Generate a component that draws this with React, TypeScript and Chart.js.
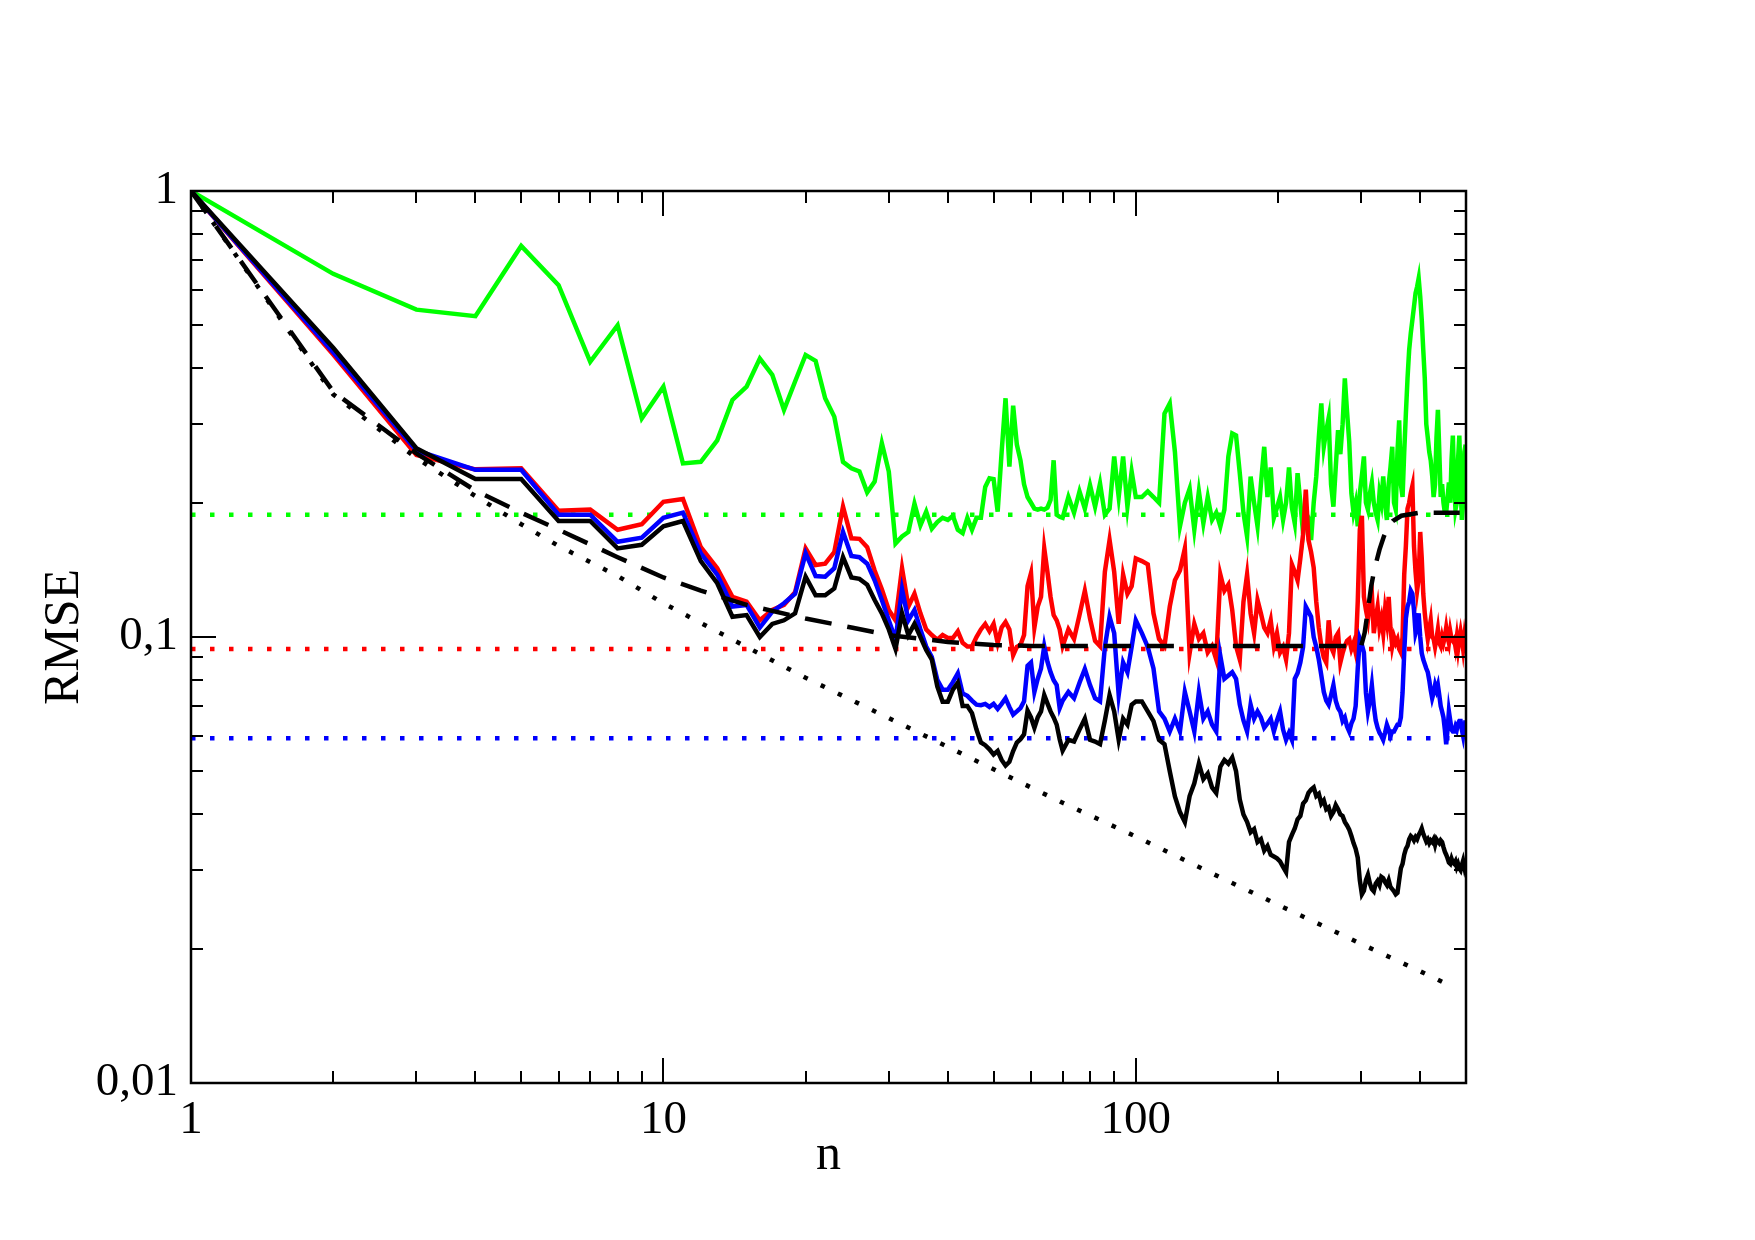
import React, { useEffect, useRef } from "react";
import { Chart, registerables } from "chart.js";

Chart.register(...registerables);

// sample positions (n)
const nValues = [
  1, 2, 3, 4, 5, 6, 7, 8, 9, 10,
  11, 12, 13, 14, 15, 16, 17, 18, 19, 20,
  21, 22, 23, 24, 25, 26, 27, 28, 29, 30,
  31, 32, 33, 34, 35, 36, 37, 38, 39, 40,
  41, 42, 43, 44, 45, 46, 47, 48, 49, 50,
  51, 52, 53, 54, 55, 56, 57, 58, 59, 60,
  61, 62, 63, 64, 65, 66, 67, 68, 69, 70,
  72, 74, 76, 78, 80, 82, 84, 86, 88, 90,
  92, 94, 96, 98, 100,
  103, 106, 109, 112, 115, 118, 121, 124, 127, 130,
  133, 136, 139, 142, 145, 148, 151, 154, 157, 160,
  163, 166, 169, 172, 175, 178, 181, 184, 187, 190,
  193, 196, 199, 202, 205, 208, 211, 214, 217, 220,
  223, 226, 229, 232, 235, 238, 241, 244, 247, 250,
  253, 256, 259, 262, 265, 268, 271, 274, 277, 280,
  283, 286, 289, 292, 295, 298, 301, 304, 307, 310,
  313, 316, 319, 322, 325, 328, 331, 334, 337, 340,
  343, 346, 349, 352, 355, 358, 361, 364, 367, 370,
  373, 376, 379, 382, 385, 388, 391, 394, 397, 400,
  403, 406, 409, 412, 415, 418, 421, 424, 427, 430,
  433, 436, 439, 442, 445, 448, 451, 454, 457, 460,
  463, 466, 469, 472, 475, 478, 481, 484, 487, 490,
  493, 496, 499,
];

const greenRmse = [
  1.0, 0.652, 0.542, 0.524, 0.753, 0.615, 0.414, 0.5, 0.309, 0.364,
  0.245, 0.247, 0.276, 0.34, 0.364, 0.421, 0.387, 0.323, 0.374, 0.429,
  0.416, 0.343, 0.312, 0.247, 0.239, 0.235, 0.211, 0.223, 0.272, 0.235,
  0.162, 0.168, 0.172, 0.199, 0.178, 0.191, 0.175, 0.181, 0.185, 0.183,
  0.187, 0.174, 0.171, 0.185, 0.174, 0.185, 0.185, 0.217, 0.227, 0.226,
  0.191, 0.26, 0.343, 0.241, 0.33, 0.27, 0.249, 0.22, 0.206, 0.2,
  0.194, 0.193, 0.194, 0.193, 0.195, 0.203, 0.249, 0.188, 0.186, 0.185,
  0.206, 0.19, 0.212, 0.194, 0.219, 0.196, 0.221, 0.188, 0.194, 0.254,
  0.206, 0.254, 0.196, 0.235, 0.206,
  0.206, 0.212, 0.206, 0.2, 0.317, 0.334, 0.26, 0.177, 0.2, 0.215,
  0.174, 0.212, 0.18, 0.206, 0.183, 0.19, 0.177, 0.193, 0.254, 0.286,
  0.283, 0.233, 0.19, 0.168, 0.229, 0.2, 0.177, 0.22, 0.267, 0.206,
  0.24, 0.185, 0.195, 0.206, 0.183, 0.2, 0.24, 0.195, 0.18, 0.233,
  0.2, 0.171, 0.19, 0.185, 0.165, 0.2, 0.229, 0.28, 0.334, 0.267,
  0.29, 0.31, 0.22, 0.196, 0.24, 0.291, 0.257, 0.3, 0.38, 0.32,
  0.274, 0.21, 0.19, 0.2, 0.177, 0.21, 0.23, 0.254, 0.2, 0.193,
  0.21, 0.222, 0.2, 0.19, 0.183, 0.21, 0.2, 0.229, 0.2, 0.183,
  0.22, 0.24, 0.267, 0.2, 0.193, 0.26, 0.306, 0.22, 0.206, 0.26,
  0.317, 0.38, 0.44, 0.48, 0.514, 0.55, 0.59, 0.61, 0.637, 0.58,
  0.514, 0.44, 0.38, 0.3, 0.28, 0.26, 0.249, 0.23, 0.206, 0.22,
  0.28, 0.323, 0.26, 0.206, 0.22, 0.2, 0.19, 0.19, 0.205, 0.222,
  0.2, 0.25, 0.283, 0.22, 0.193, 0.2, 0.25, 0.283, 0.22, 0.183,
  0.2, 0.26, 0.27,
];

const redRmse = [
  1.0, 0.43, 0.256, 0.2376, 0.239, 0.192, 0.193, 0.174, 0.179, 0.201,
  0.204, 0.159, 0.1426, 0.123, 0.12, 0.109, 0.115, 0.118, 0.126, 0.158,
  0.145, 0.146, 0.155, 0.196, 0.1665, 0.166, 0.159, 0.141, 0.128, 0.115,
  0.109, 0.1426, 0.117, 0.125, 0.113, 0.104, 0.101, 0.0986, 0.101, 0.0995,
  0.0995, 0.103, 0.097, 0.0952, 0.0952, 0.1, 0.104, 0.107, 0.103, 0.107,
  0.097, 0.105, 0.108, 0.104, 0.091, 0.095, 0.096, 0.101, 0.13, 0.139,
  0.105, 0.117, 0.123, 0.158, 0.14, 0.123, 0.112, 0.109, 0.104, 0.0954,
  0.104, 0.099, 0.112, 0.127, 0.11, 0.098, 0.0954, 0.14, 0.165, 0.14,
  0.107, 0.138, 0.125, 0.13, 0.15,
  0.148, 0.1455, 0.113, 0.099, 0.0954, 0.117, 0.134, 0.141, 0.158, 0.092,
  0.107, 0.099, 0.102, 0.0923, 0.0954, 0.089, 0.138, 0.127, 0.131, 0.115,
  0.0954, 0.089, 0.12, 0.138, 0.113, 0.102, 0.121, 0.113, 0.105, 0.102,
  0.109, 0.0954, 0.102, 0.0923, 0.095, 0.089, 0.102, 0.1455, 0.14, 0.134,
  0.15, 0.17, 0.214, 0.165, 0.155, 0.143, 0.12, 0.105, 0.0954, 0.09,
  0.0877, 0.109, 0.095, 0.0923, 0.1, 0.102, 0.0877, 0.092, 0.0954, 0.098,
  0.099, 0.094, 0.097, 0.0923, 0.12, 0.174, 0.187, 0.123, 0.115, 0.109,
  0.12, 0.125, 0.102, 0.11, 0.117, 0.105, 0.11, 0.102, 0.115, 0.108,
  0.123, 0.105, 0.0954, 0.1, 0.097, 0.099, 0.094, 0.0923, 0.1, 0.138,
  0.16, 0.194, 0.2, 0.21, 0.218, 0.16, 0.14, 0.127, 0.135, 0.172,
  0.15, 0.125, 0.113, 0.105, 0.099, 0.104, 0.109, 0.1, 0.099, 0.095,
  0.099, 0.104, 0.097, 0.0954, 0.1, 0.097, 0.1, 0.105, 0.1, 0.097,
  0.103, 0.099, 0.098, 0.099, 0.095, 0.1, 0.094, 0.099, 0.103, 0.099,
  0.094, 0.1, 0.0954,
];

const blueRmse = [
  1.0, 0.435, 0.262, 0.237, 0.237, 0.188, 0.188, 0.1635, 0.167, 0.185,
  0.19, 0.154, 0.138, 0.117, 0.118, 0.105, 0.114, 0.119, 0.125, 0.154,
  0.137, 0.1365, 0.1426, 0.172, 0.152, 0.151, 0.146, 0.134, 0.121, 0.109,
  0.0986, 0.128, 0.109, 0.115, 0.104, 0.0952, 0.0902, 0.0802, 0.0762, 0.0762,
  0.0792, 0.0829, 0.0747, 0.0738, 0.072, 0.0705, 0.0703, 0.0708, 0.0697, 0.0708,
  0.069, 0.0708, 0.0729, 0.0697, 0.067, 0.0681, 0.0693, 0.0717, 0.0862, 0.0877,
  0.0753, 0.0806, 0.085, 0.0954, 0.088, 0.0834, 0.08, 0.078, 0.0693, 0.072,
  0.0753, 0.0729, 0.079, 0.0848, 0.078, 0.0729, 0.0717, 0.095, 0.111, 0.102,
  0.0741, 0.0877, 0.0834, 0.095, 0.109,
  0.102, 0.095, 0.085, 0.0681, 0.0656, 0.0614, 0.0656, 0.0614, 0.0753, 0.0681,
  0.0614, 0.0753, 0.0656, 0.0681, 0.0636, 0.0614, 0.0906, 0.0806, 0.082, 0.0834,
  0.0806, 0.0705, 0.065, 0.0614, 0.0705, 0.0656, 0.0681, 0.066, 0.0626, 0.064,
  0.0656, 0.0614, 0.065, 0.0681, 0.062, 0.0588, 0.061, 0.0588, 0.0806, 0.083,
  0.0877, 0.095, 0.117, 0.114, 0.111, 0.1, 0.095, 0.089, 0.082, 0.0753,
  0.072, 0.0705, 0.074, 0.078, 0.072, 0.0693, 0.068, 0.0648, 0.066, 0.063,
  0.0614, 0.064, 0.0656, 0.07, 0.085, 0.099, 0.096, 0.0923, 0.075, 0.0681,
  0.072, 0.078, 0.07, 0.065, 0.0626, 0.061, 0.06, 0.0588, 0.061, 0.0636,
  0.062, 0.06, 0.0614, 0.0614, 0.0625, 0.0636, 0.0636, 0.066, 0.075, 0.0923,
  0.11, 0.117, 0.12, 0.127, 0.125, 0.115, 0.102, 0.105, 0.113, 0.1,
  0.092, 0.089, 0.087, 0.085, 0.0834, 0.08, 0.076, 0.0729, 0.075, 0.078,
  0.076, 0.078, 0.074, 0.07, 0.0681, 0.066, 0.062, 0.0575, 0.062, 0.0681,
  0.065, 0.062, 0.0614, 0.0614, 0.063, 0.062, 0.064, 0.0648, 0.0648, 0.062,
  0.06, 0.063, 0.065,
];

const blackRmse = [
  1.0, 0.445, 0.265, 0.226, 0.226, 0.182, 0.182, 0.158, 0.161, 0.177,
  0.182, 0.148, 0.132, 0.111, 0.112, 0.1, 0.107, 0.109, 0.113, 0.1365,
  0.124, 0.124, 0.1285, 0.151, 0.136, 0.135, 0.131, 0.121, 0.113, 0.104,
  0.094, 0.113, 0.101, 0.107, 0.1, 0.0935, 0.089, 0.0775, 0.0716, 0.0716,
  0.0762, 0.079, 0.07, 0.07, 0.0675, 0.062, 0.058, 0.0572, 0.056, 0.0545,
  0.0555, 0.053, 0.0515, 0.0525, 0.0555, 0.058, 0.059, 0.0605, 0.0684, 0.066,
  0.0626, 0.066, 0.0681, 0.0741, 0.071, 0.0681, 0.066, 0.0636, 0.059, 0.0556,
  0.0588, 0.0583, 0.062, 0.0656, 0.0588, 0.0583, 0.0575, 0.065, 0.0741, 0.0681,
  0.0588, 0.0656, 0.0636, 0.0705, 0.0717,
  0.0717, 0.0681, 0.0648, 0.0588, 0.0575, 0.05, 0.0439, 0.0405, 0.0385, 0.044,
  0.047, 0.052, 0.048, 0.0494, 0.046, 0.0447, 0.0512, 0.053, 0.052, 0.0537,
  0.05, 0.0432, 0.04, 0.0385, 0.0365, 0.0371, 0.0347, 0.0352, 0.0332, 0.034,
  0.0325, 0.0322, 0.0319, 0.0314, 0.0305, 0.0297, 0.0347, 0.036, 0.0372, 0.039,
  0.0397, 0.0423, 0.043, 0.0447, 0.0455, 0.046, 0.044, 0.0445, 0.0423, 0.043,
  0.0411, 0.0415, 0.0397, 0.0405, 0.042, 0.0411, 0.04, 0.0397, 0.0385, 0.0378,
  0.037, 0.0358, 0.0345, 0.0335, 0.032, 0.0285, 0.0265, 0.027, 0.0285, 0.0293,
  0.028, 0.0272, 0.0269, 0.028, 0.0284, 0.0278, 0.029, 0.0288, 0.0282, 0.0278,
  0.0285, 0.0275, 0.0272, 0.0269, 0.0265, 0.0267, 0.0285, 0.0303, 0.031, 0.0325,
  0.0335, 0.034, 0.0352, 0.0358, 0.0355, 0.035, 0.0356, 0.0352, 0.036, 0.0365,
  0.0372, 0.0362, 0.0355, 0.0348, 0.0352, 0.0345, 0.035, 0.0347, 0.0352, 0.0342,
  0.0352, 0.0348, 0.0345, 0.035, 0.0347, 0.0338, 0.033, 0.0325, 0.0319, 0.0312,
  0.031, 0.0318, 0.0312, 0.031, 0.0314, 0.0305, 0.031, 0.0303, 0.03, 0.0308,
  0.0315, 0.0305, 0.0314,
];

// black dotted reference curve
const refCurveN = [1, 2, 3, 4, 5, 6, 8, 10, 15, 20, 30, 40, 50, 70, 100, 150, 200, 300, 400, 470];
const refCurveY = [1, 0.35, 0.252, 0.207, 0.179, 0.16, 0.137, 0.119, 0.095, 0.081, 0.0658, 0.0567, 0.0505, 0.0425, 0.0357, 0.029, 0.0251, 0.0205, 0.0178, 0.0164];

// black dashed curve
const limitCurveN = [1, 2, 3, 4, 5, 6, 8, 10, 12, 15, 20, 25, 30, 40, 50, 60, 80, 100, 150, 200, 250, 300, 305, 310, 315, 320, 328, 335, 342, 350, 365, 400, 485];
const limitCurveY = [1, 0.355, 0.258, 0.213, 0.19, 0.174, 0.151, 0.136, 0.127, 0.118, 0.11, 0.105, 0.101, 0.0975, 0.096, 0.0955, 0.0955, 0.0955, 0.0955, 0.0955, 0.0955, 0.0955, 0.102, 0.115, 0.13, 0.142, 0.157, 0.168, 0.177, 0.182, 0.187, 0.19, 0.19];

// dotted horizontal levels
const levelN = [1, 490];
const greenLevel = [0.188, 0.188];
const redLevel = [0.094, 0.094];
const blueLevel = [0.0593, 0.0593];

const xTickValues = [1, 10, 100];
const xTickLabels = ["1", "10", "100"];
const yTickValues = [0.01, 0.1, 1];
const yTickLabels = ["0,01", "0,1", "1"];
const xMinorTicks = [2, 3, 4, 5, 6, 7, 8, 9, 20, 30, 40, 50, 60, 70, 80, 90, 200, 300, 400];
const xMajorTicks = [10, 100];
const yMinorTicks = [0.02, 0.03, 0.04, 0.05, 0.06, 0.07, 0.08, 0.09, 0.2, 0.3, 0.4, 0.5, 0.6, 0.7, 0.8, 0.9];
const yMajorTicks = [0.1];

const FONT = "'Liberation Serif', 'Times New Roman', serif";

function toPoints(xs: number[], ys: number[]) {
  const len = Math.min(xs.length, ys.length);
  const out: { x: number; y: number }[] = [];
  for (let i = 0; i < len; i++) out.push({ x: xs[i], y: ys[i] });
  return out;
}

const framePlugin = {
  id: "framePlugin",
  afterDatasetsDraw(chart: any) {
    const { ctx, chartArea } = chart;
    const { left, right, top, bottom } = chartArea;
    const xs = chart.scales.x;
    const ys = chart.scales.y;
    ctx.save();
    ctx.strokeStyle = "#000";
    ctx.lineWidth = 2;
    ctx.beginPath();
    const xTick = (v: number, len: number) => {
      const px = Math.round(xs.getPixelForValue(v));
      ctx.moveTo(px, bottom);
      ctx.lineTo(px, bottom - len);
      ctx.moveTo(px, top);
      ctx.lineTo(px, top + len);
    };
    const yTick = (v: number, len: number) => {
      const py = Math.round(ys.getPixelForValue(v));
      ctx.moveTo(left, py);
      ctx.lineTo(left + len, py);
      ctx.moveTo(right, py);
      ctx.lineTo(right - len, py);
    };
    xMinorTicks.forEach((v) => xTick(v, 12));
    xMajorTicks.forEach((v) => xTick(v, 25));
    yMinorTicks.forEach((v) => yTick(v, 12));
    yMajorTicks.forEach((v) => yTick(v, 25));
    ctx.stroke();
    ctx.lineWidth = 2.5;
    ctx.strokeRect(left, top, right - left, bottom - top);
    ctx.restore();
  },
};

export default function App() {
  const canvasRef = useRef<HTMLCanvasElement | null>(null);

  useEffect(() => {
    document.body.style.margin = "0";
    document.body.style.overflow = "hidden";
    const canvas = canvasRef.current;
    if (!canvas) return;

    const solid = (data: any, color: string, order: number) => ({
      data,
      borderColor: color,
      backgroundColor: color,
      borderWidth: 4.5,
      pointRadius: 0,
      fill: false,
      tension: 0,
      order,
    });
    const dotted = (data: any, color: string, order: number) => ({
      data,
      borderColor: color,
      backgroundColor: color,
      borderWidth: 4.5,
      borderDash: [4.5, 14.5],
      pointRadius: 0,
      fill: false,
      tension: 0,
      order,
    });

    const chart = new Chart(canvas, {
      type: "line",
      data: {
        datasets: [
          {
            data: toPoints(limitCurveN, limitCurveY),
            borderColor: "#000",
            borderWidth: 4.5,
            borderDash: [27, 16],
            pointRadius: 0,
            fill: false,
            tension: 0,
            order: 0,
          },
          dotted(toPoints(refCurveN, refCurveY), "#000", 1),
          solid(toPoints(nValues, blackRmse), "#000", 2),
          solid(toPoints(nValues, blueRmse), "#0000ff", 3),
          solid(toPoints(nValues, redRmse), "#ff0000", 4),
          solid(toPoints(nValues, greenRmse), "#00ff00", 5),
          dotted(toPoints(levelN, blueLevel), "#0000ff", 6),
          dotted(toPoints(levelN, redLevel), "#ff0000", 7),
          dotted(toPoints(levelN, greenLevel), "#00ff00", 8),
        ] as any,
      },
      options: {
        responsive: false,
        maintainAspectRatio: false,
        devicePixelRatio: 1,
        animation: false,
        events: [],
        layout: { padding: { left: 0, top: 191, right: 289, bottom: 0 } },
        plugins: {
          legend: { display: false },
          tooltip: { enabled: false },
        },
        scales: {
          x: {
            type: "logarithmic",
            min: 1,
            max: 500,
            grid: { display: false, drawTicks: false },
            border: { display: false },
            afterBuildTicks: (s: any) => {
              s.ticks = xTickValues.map((v) => ({ value: v }));
            },
            afterFit: (s: any) => {
              s.height = 157;
            },
            ticks: {
              autoSkip: false,
              maxRotation: 0,
              minRotation: 0,
              padding: 9,
              color: "#000",
              font: { family: FONT, size: 47 },
              callback: (v: any) => {
                const i = xTickValues.findIndex((t) => Math.abs(t - Number(v)) < 1e-9);
                return i >= 0 ? xTickLabels[i] : "";
              },
            },
            title: {
              display: true,
              text: "n",
              color: "#000",
              font: { family: FONT, size: 50 },
              padding: { top: 0, bottom: 54 },
            },
          } as any,
          y: {
            type: "logarithmic",
            min: 0.01,
            max: 1,
            grid: { display: false, drawTicks: false },
            border: { display: false },
            afterBuildTicks: (s: any) => {
              s.ticks = yTickValues.map((v) => ({ value: v }));
            },
            afterFit: (s: any) => {
              s.width = 191;
            },
            ticks: {
              autoSkip: false,
              padding: 13,
              color: "#000",
              font: { family: FONT, size: 47 },
              callback: (v: any) => {
                const i = yTickValues.findIndex((t) => Math.abs(t - Number(v)) < 1e-9);
                return i >= 0 ? yTickLabels[i] : "";
              },
            },
            title: {
              display: true,
              text: "RMSE",
              color: "#000",
              font: { family: FONT, size: 50 },
              padding: { top: 35, bottom: 0 },
            },
          } as any,
        },
      },
      plugins: [framePlugin],
    });

    return () => chart.destroy();
  }, []);

  return (
    <div style={{ width: 1755, height: 1240, background: "#fff" }}>
      <canvas
        ref={canvasRef}
        width={1755}
        height={1240}
        style={{ display: "block", width: "1755px", height: "1240px" }}
      />
    </div>
  );
}
